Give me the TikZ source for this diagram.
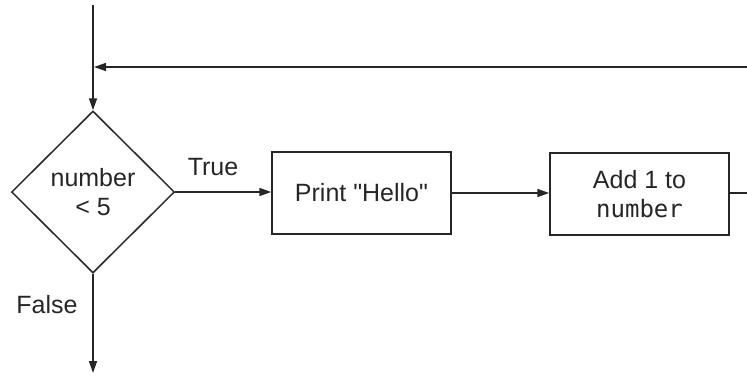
\documentclass[tikz,border=0pt]{standalone}
\usepackage{fontspec}
\setmainfont{Liberation Sans}
\setmonofont{DejaVu Sans Mono}
\usetikzlibrary{shapes.geometric,arrows.meta}
\begin{document}
\begin{tikzpicture}[x=1pt,y=-1pt,
  ink/.style={draw=black!85},
  line/.style={ink,line width=1.5pt},
  arr/.style={line,-{Triangle[length=12pt,width=8pt]}},
  procbox/.style={ink,line width=1.5pt,rectangle,minimum width=179pt,minimum height=82pt,inner sep=0pt,align=center,font=\fontsize{25}{29}\selectfont,text=black!85},
  decision/.style={ink,line width=1.5pt,diamond,aspect=1,minimum width=163pt,minimum height=162pt,inner sep=0pt,align=center,font=\fontsize{25}{29}\selectfont,text=black!85},
  lbl/.style={font=\fontsize{25}{29}\selectfont,text=black!85,inner sep=0pt}]
\useasboundingbox (0,0) rectangle (747,376);
\coordinate (top) at (93,5);
\coordinate (fbin) at (747,67);
\coordinate (fbout) at (94,67);
\coordinate (rightout) at (747,193);
\coordinate (bottom) at (93,373);
\node[decision] (dec) at (93,192) {number\\{<} 5};
\node[procbox] (print) at (361.5,193) {Print \textquotedbl Hello\textquotedbl};
\node[procbox] (add) at (639.5,194) {Add 1 to\\{\fontsize{24}{29}\selectfont\texttt{number}}};
\draw[arr] (top) -- (dec.north);
\draw[arr] (fbin) -- (fbout);
\draw[arr] (dec.east) -- (dec.east -| print.west);
\draw[arr] (print.east -| print.east) -- (print.east -| add.west);
\draw[line] (add.east |- rightout) -- (rightout);
\draw[arr] (dec.south) -- (bottom);
\node[lbl] (true) at (213,167) {True};
\node[lbl] (false) at (47,305) {False};
\end{tikzpicture}
\end{document}
